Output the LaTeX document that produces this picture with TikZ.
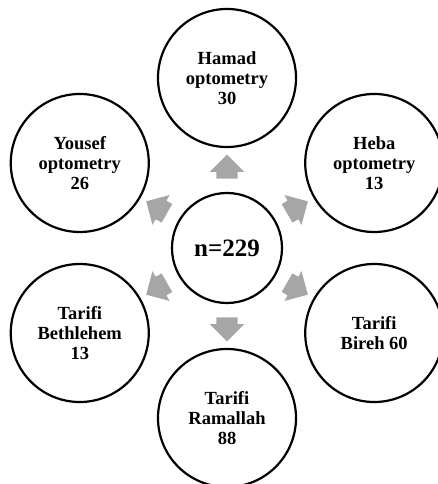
\documentclass[tikz,border=0pt]{standalone}
\usepackage{fontspec}
\setmainfont{Liberation Serif}
\usetikzlibrary{shapes.arrows}

\begin{document}
\begin{tikzpicture}[
	site/.style={
		draw, circle, line width=2.2pt, align=center,
		minimum size=138pt, inner sep=0pt,
		font=\fontsize{18.5}{20}\selectfont\bfseries
	},
	hub/.style={
		draw, circle, line width=2.2pt, align=center,
		minimum size=110pt, inner sep=0pt,
		font=\fontsize{25}{28}\selectfont\bfseries
	},
	blockarr/.style={
		single arrow, fill=black!35, draw=none,
		minimum height=24pt, inner xsep=0pt, inner ysep=10.5pt,
		single arrow head extend=6.5pt
	}
	]
	\useasboundingbox (-227pt,-236pt) rectangle (211pt,248pt);
	
	%==================== 中心 ====================
	\node[hub] (total) at (0,0) {n=229};
	
	%==================== 各点 ====================
	\node[site] (hamad) at (90:170pt) {Hamad\\optometry\\30};
	\node[site] (heba) at (30:170pt) {Heba\\optometry\\13};
	\node[site] (bireh) at (-30:170pt) {Tarifi\\Bireh 60};
	\node[site] (ramallah) at (-90:170pt) {Tarifi\\Ramallah\\88};
	\node[site] (bethlehem) at (210:170pt) {Tarifi\\Bethlehem\\13};
	\node[site] (yousef) at (150:170pt) {Yousef\\optometry\\26};
	
	%==================== 箭头 ====================
	\foreach \ang/\nm in {90/hamad, 30/heba, -30/bireh, -90/ramallah, 210/bethlehem, 150/yousef}
		\node[blockarr, rotate=\ang] (arr-\nm) at (\ang:76pt) {};
	
\end{tikzpicture}
\end{document}
